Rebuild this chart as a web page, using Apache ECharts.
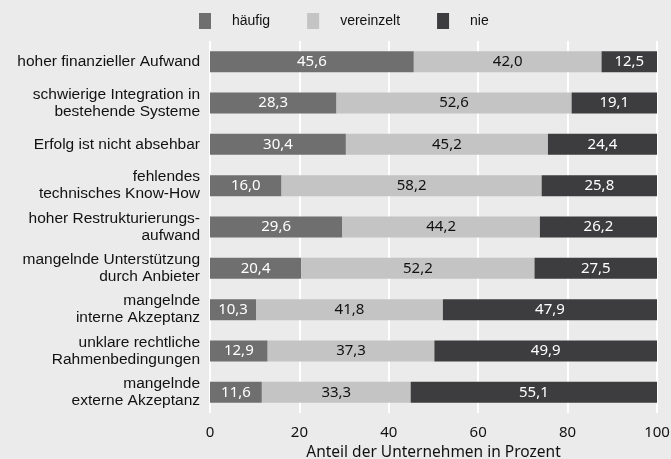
<!DOCTYPE html>
<html><head><meta charset="utf-8">
<script src="https://cdn.jsdelivr.net/npm/echarts@6/dist/echarts.min.js"></script>
<style>html,body{margin:0;padding:0;background:#ebebeb;}#c{width:671px;height:459px;}</style>
</head><body><div id="c"></div>
<script>
var categories = [
  "hoher finanzieller Aufwand",
  "schwierige Integration in\nbestehende Systeme",
  "Erfolg ist nicht absehbar",
  "fehlendes\ntechnisches Know-How",
  "hoher Restrukturierungs-\naufwand",
  "mangelnde Unterstützung\ndurch Anbieter",
  "mangelnde\ninterne Akzeptanz",
  "unklare rechtliche\nRahmenbedingungen",
  "mangelnde\nexterne Akzeptanz"
];
var haeufig = [45.6, 28.3, 30.4, 16.0, 29.6, 20.4, 10.3, 12.9, 11.6];
var vereinzelt = [42.0, 52.6, 45.2, 58.2, 44.2, 52.2, 41.8, 37.3, 33.3];
var nie = [12.5, 19.1, 24.4, 25.8, 26.2, 27.5, 47.9, 49.9, 55.1];
var xTicks = [0, 20, 40, 60, 80, 100];

var FONT = '"Liberation Sans", Arial, sans-serif';
var NFONT = '"Noto Sans", sans-serif';
function fmt(p){ return p.value.toFixed(1).replace('.', ','); }
function mk(name, data, color, txt){
  return {
    name: name, type: 'bar', stack: 'a', data: data, barWidth: '51%',
    itemStyle: {color: color},
    label: {show: true, position: 'inside', formatter: fmt, color: txt, fontSize: 15, fontFamily: NFONT},
    emphasis: {disabled: true}
  };
}
var chart = echarts.init(document.getElementById('c'));
chart.setOption({
  backgroundColor: '#ebebeb',
  animation: false,
  textStyle: {fontFamily: FONT},
  legend: {
    left: 194, top: 8, itemWidth: 12, itemHeight: 16, itemGap: 37,
    textStyle: {fontSize: 14, color: '#111', padding: [0, 0, 0, 16], fontFamily: FONT},
    icon: 'rect',
    data: ['häufig', 'vereinzelt', 'nie']
  },
  grid: {left: 210, right: 14, top: 41, bottom: 46, containLabel: false, outerBoundsMode: 'none'},
  xAxis: {
    type: 'value', min: 0, max: 100, interval: 20,
    axisLine: {show: false}, axisTick: {show: false},
    splitLine: {show: true, lineStyle: {color: '#ffffff', width: 2}},
    axisLabel: {fontSize: 15, color: '#111', margin: 12, fontFamily: NFONT,
      formatter: function(v){ return xTicks.indexOf(v) >= 0 ? String(v) : ''; }},
    name: 'Anteil der Unternehmen in Prozent', nameLocation: 'middle', nameGap: 31,
    nameTextStyle: {fontSize: 15.5, color: '#111', fontFamily: NFONT}
  },
  yAxis: {
    type: 'category', data: categories, inverse: true,
    axisLine: {show: false}, axisTick: {show: false},
    axisLabel: {fontSize: 15.5, color: '#111', margin: 10, lineHeight: 17, align: 'right', fontFamily: FONT}
  },
  series: [
    mk('häufig', haeufig, '#6f6f6f', '#ffffff'),
    mk('vereinzelt', vereinzelt, '#c4c4c4', '#111111'),
    mk('nie', nie, '#3d3c3e', '#ffffff')
  ]
});
</script></body></html>
